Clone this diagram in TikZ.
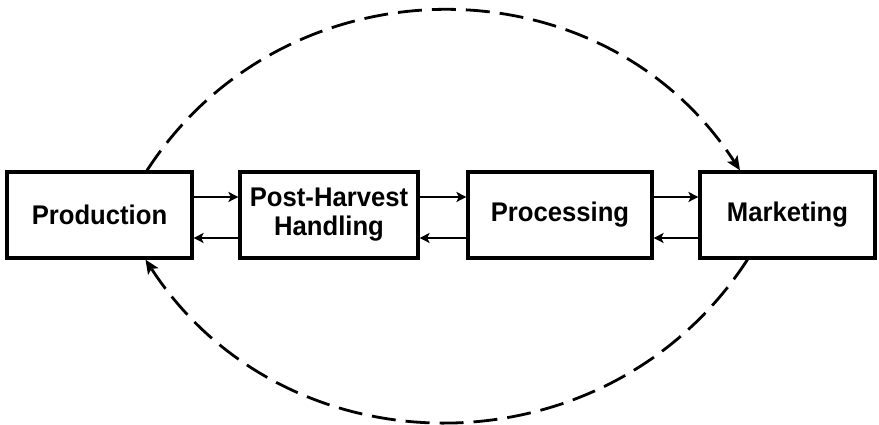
\documentclass[tikz,border=0pt]{standalone}
\usepackage{fontspec}
\setmainfont{Liberation Sans}[FakeStretch=0.95]
\usetikzlibrary{arrows.meta}
\begin{document}
\begin{tikzpicture}[x=1pt,y=1pt,
  stage/.style={draw, line width=3.2pt, minimum height=86pt, inner sep=0pt,
    align=center, font=\fontsize{27}{29}\selectfont\bfseries},
  flow/.style={line width=2.2pt, -{Stealth[length=10pt,width=10pt,inset=2.5pt]}},
  feedback/.style={line width=2.8pt, dash pattern=on 24pt off 10pt,
    -{Stealth[length=14pt,width=12pt,inset=3pt]}}]
\useasboundingbox (0,0) rectangle (879,425);

% the four stages of the chain
\node[stage, minimum width=185pt] (prod) at (99.5,210) {Production};
\node[stage, minimum width=178pt] (phh)  at (329,210)  {Post-Harvest\\Handling};
\node[stage, minimum width=184pt] (proc) at (560,210)  {Processing};
\node[stage, minimum width=175pt] (mkt)  at (787.5,210) {Marketing};

% forward and backward links between neighbours
\foreach \a/\b in {prod/phh, phh/proc, proc/mkt}{
  \draw[flow] ([yshift=18pt]\a.east) -- ([yshift=18pt]\b.west);
  \draw[flow] ([yshift=-23pt]\b.west) -- ([yshift=-23pt]\a.east);
}

% long feedback loops
\coordinate (topA) at ([xshift=47.5pt]prod.north);
\coordinate (topB) at ([xshift=-47.5pt]mkt.north);
\coordinate (botA) at ([xshift=-40pt]mkt.south);
\coordinate (botB) at ([xshift=46pt]prod.south);
\draw[feedback] (topA) to[out=57, in=123, looseness=1.1] (topB);
\draw[feedback] (botA) to[out=-123, in=-57, looseness=1.1] (botB);
\end{tikzpicture}
\end{document}
